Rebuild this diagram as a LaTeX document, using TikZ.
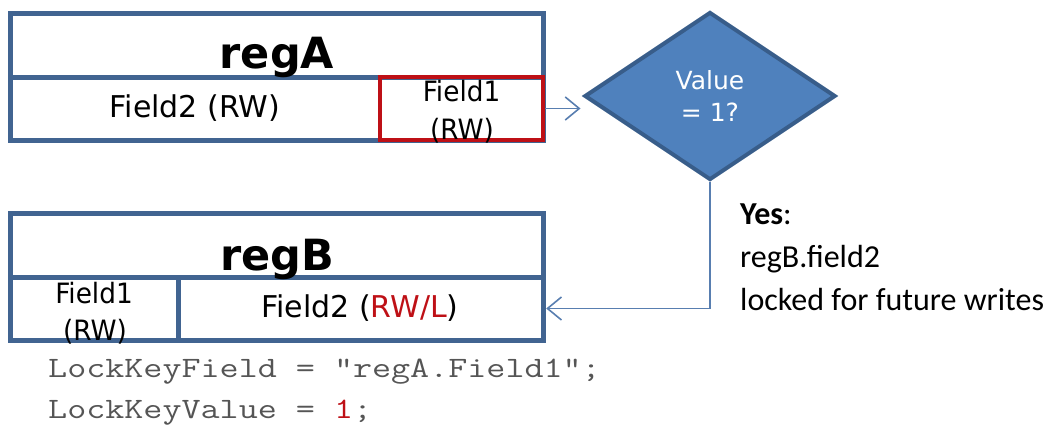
\documentclass[tikz,border=0pt]{standalone}
\usepackage{fontspec}
\setmainfont{DejaVu Sans}
\newfontfamily\notefont{Carlito}
\usetikzlibrary{arrows.meta,shapes.geometric}

\definecolor{regblue}{RGB}{65,100,145}
\definecolor{regred}{RGB}{190,16,22}
\definecolor{decfill}{RGB}{79,129,189}
\definecolor{decline}{RGB}{56,93,138}
\definecolor{linkblue}{RGB}{88,126,176}
\definecolor{codegray}{RGB}{85,85,85}

\tikzset{
  regbox/.style={draw=regblue, line width=5pt, inner sep=0pt, rectangle},
  keybox/.style={draw=regred, line width=4.5pt, inner sep=0pt, rectangle},
  cell/.style={inner sep=0pt, rectangle},
  divider/.style={draw=regblue, line width=5pt},
  title/.style={font=\fontsize{43}{43}\selectfont\bfseries, anchor=base, inner sep=0pt},
  label/.style={font=\fontsize{30}{30}\selectfont, inner sep=0pt},
  fieldline/.style={font=\fontsize{28}{28}\selectfont, anchor=base, inner sep=0pt},
  decision/.style={diamond, draw=decline, line width=4pt, fill=decfill,
    minimum width=251pt, minimum height=168pt, inner sep=0pt,
    text=white, align=center, font=\fontsize{25}{32}\selectfont},
  conn/.style={draw=linkblue, line width=1.6pt,
    -{Straight Barb[length=14pt,width=23pt,line width=1.6pt]}},
  note/.style={font=\notefont\fontsize{32}{43}\selectfont, anchor=north west,
    align=left, inner sep=0pt},
  code/.style={font=\ttfamily\fontsize{37}{37}\selectfont, text=codegray,
    anchor=base west, inner sep=0pt}
}
\newcommand{\codetext}[1]{\scalebox{1}[0.8]{#1}}
\newcommand{\narrow}[1]{\scalebox{0.94}[1]{#1}}

\begin{document}
\begin{tikzpicture}[x=1pt,y=-1pt]
\useasboundingbox (0,0) rectangle (1052,431);

% ---- regA ----
\node[regbox, minimum width=533pt, minimum height=127pt] (regA) at (276.5,76.5) {};
\draw[divider] (10,77) -- (543,77);
\node[title] (regAname) at (277,68) {regA};
\node[cell, minimum width=370pt, minimum height=63pt] (a2) at (195,108.5) {};
\node[label] at (a2) {Field2 (RW)};
\node[keybox, minimum width=163pt, minimum height=63pt] (a1) at (461.5,108.5) {};
\node[fieldline] at (461.5,101) {\narrow{Field1}};
\node[fieldline] at (462,139) {\narrow{(RW)}};

% ---- decision ----
\node[decision] (dec) at (710,96) {Value\\= 1?};

% ---- regB ----
\node[regbox, minimum width=533pt, minimum height=127pt] (regB) at (276.5,276.5) {};
\draw[divider] (10,277) -- (543,277);
\draw[divider] (178,277) -- (178,340);
\node[title] (regBname) at (277,270) {regB};
\node[cell, minimum width=168pt, minimum height=63pt] (b1) at (94,308.5) {};
\node[fieldline] at (94,303) {\narrow{Field1}};
\node[fieldline] at (95,340) {\narrow{(RW)}};
\node[cell, minimum width=365pt, minimum height=63pt] (b2) at (360.5,308.5) {};
\node[label] at (360,308.5) {Field2 (\textcolor{regred}{RW/L})};

% ---- connectors ----
\draw[conn, shorten >=2pt] (a1.east) -- (dec.west |- a1.east);
\draw[conn, shorten >=3pt] (dec.south) |- (b2.east);

% ---- annotation ----
\node[note] (yes) at (740,204) {\textbf{Yes}:\\regB.field2\\locked for future writes};

% ---- lock settings ----
\node[code] (lk1) at (48,377) {\codetext{LockKeyField = “regA.Field1”;}};
\node[code] (lk2) at (48,418) {\codetext{LockKeyValue = \textcolor{regred}{1};}};
\end{tikzpicture}
\end{document}
